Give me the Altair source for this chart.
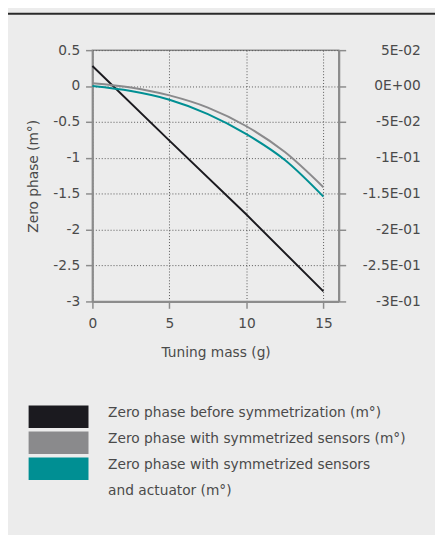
import altair as alt
import pandas as pd

# ---- data ----
series_names = [
    "Zero phase before symmetrization (m°)",
    "Zero phase with symmetrized sensors (m°)",
    "Zero phase with symmetrized sensors and actuator (m°)",
]
series_colors = ["#1b1a1f", "#8a8a8c", "#008f93"]

# legend text as printed (third entry wraps onto a second line)
legend_labels = [
    "Zero phase before symmetrization (m°)",
    "Zero phase with symmetrized sensors (m°)",
    "Zero phase with symmetrized sensors",
    "and actuator (m°)",
]
legend_colors = ["#1b1a1f", "#8a8a8c", "#008f93", "#ececec"]

# left axis (m°)
mass_before = [0, 5, 10, 15]
phase_before = [0.28, -0.76, -1.79, -2.86]

# right axis (E-notation scale)
mass_sym = [0, 2.5, 5, 7.5, 10, 12.5, 15]
phase_sensors = [0.004, -0.002, -0.013, -0.030, -0.056, -0.092, -0.141]
phase_sensors_act = [0.0, -0.007, -0.019, -0.039, -0.067, -0.103, -0.154]

x_ticks = [0, 5, 10, 15]
left_ticks = [0.5, 0, -0.5, -1, -1.5, -2, -2.5, -3]
right_ticks = [0.05, 0, -0.05, -0.1, -0.15, -0.2, -0.25, -0.3]
right_labels = ["5E-02", "0E+00", "-5E-02", "-1E-01", "-1.5E-01", "-2E-01", "-2.5E-01", "-3E-01"]

df_left = pd.DataFrame({"mass": mass_before, "phase": phase_before, "series": series_names[0]})
df_right = pd.concat([
    pd.DataFrame({"mass": mass_sym, "phase": phase_sensors, "series": series_names[1]}),
    pd.DataFrame({"mass": mass_sym, "phase": phase_sensors_act, "series": series_names[2]}),
])
df_legend = pd.DataFrame({"entry": legend_labels})

FONT = "DejaVu Sans"
TXT = "#4a4a4a"
AX = "#8c8c8c"

right_expr = " : ".join(
    f"round(datum.value*100)=={round(v*100)} ? '{l}'" for v, l in zip(right_ticks, right_labels)
) + " : ''"

color = alt.Color("series:N", scale=alt.Scale(domain=series_names, range=series_colors),
                  legend=None)

x = alt.X("mass:Q", scale=alt.Scale(domain=[0, 16], nice=False),
          axis=alt.Axis(values=x_ticks, title="Tuning mass (g)", grid=True,
                        labelFlush=False))

left = alt.Chart(df_left).mark_line(strokeWidth=2).encode(
    x=x,
    y=alt.Y("phase:Q", scale=alt.Scale(domain=[-3, 0.5], nice=False),
            axis=alt.Axis(values=left_ticks, title="Zero phase (m°)", orient="left",
                          grid=True, labelFlush=False, titlePadding=13,
                          labelExpr="datum.value + ''")),
    color=color,
)

right = alt.Chart(df_right).mark_line(strokeWidth=2, interpolate="monotone").encode(
    x=x,
    y=alt.Y("phase:Q", scale=alt.Scale(domain=[-0.3, 0.05], nice=False),
            axis=alt.Axis(values=right_ticks, title=None, orient="right", grid=False,
                          labelExpr=right_expr, labelAlign="right", labelPadding=76,
                          labelFlush=False)),
    color=color,
)

legend_layer = alt.Chart(df_legend).mark_square(size=0, filled=True, opacity=1).encode(
    fill=alt.Fill(
        "entry:N",
        scale=alt.Scale(domain=legend_labels, range=legend_colors),
        legend=alt.Legend(
            title=None, orient="none", legendX=-46, legendY=362, direction="vertical",
            symbolType="M-2.652,-1H2.652V1H-2.652Z", symbolSize=529, symbolStrokeWidth=0,
            symbolOpacity=1,
            labelFont=FONT, labelFontSize=14, labelColor=TXT, labelLimit=400,
            labelOffset=39, labelBaseline="alphabetic",
            rowPadding=3.5, padding=0,
        ),
    )
)

top_line = alt.Chart(pd.DataFrame({"a": [0]})).mark_rule(color="#2a2a2a", strokeWidth=2).encode(
    x=alt.value(-86), x2=alt.value(349), y=alt.value(-37)
)

chart = alt.layer(left, right, legend_layer, top_line).resolve_scale(y="independent").properties(
    width=251, height=256,
    autosize=alt.AutoSizeParams(type="none"),
    padding={"left": 86, "top": 38, "right": 98, "bottom": 233},
    background="#ececec",
).configure_view(
    stroke=AX, strokeWidth=1.5, fill="white"
).configure_axis(
    labelFont=FONT, labelFontSize=14, labelColor=TXT,
    titleFont=FONT, titleFontSize=14, titleColor=TXT, titleFontWeight="normal",
    domainColor=AX, domainWidth=2, tickColor=AX, tickWidth=1.5, tickSize=7,
    gridColor="#555555", gridDash=[1, 2], gridWidth=1, gridOpacity=1,
    labelPadding=6,
).configure_axisX(
    labelPadding=9, titlePadding=15,
)

chart.save("out.html", embed_options={"renderer": "svg", "actions": False})
